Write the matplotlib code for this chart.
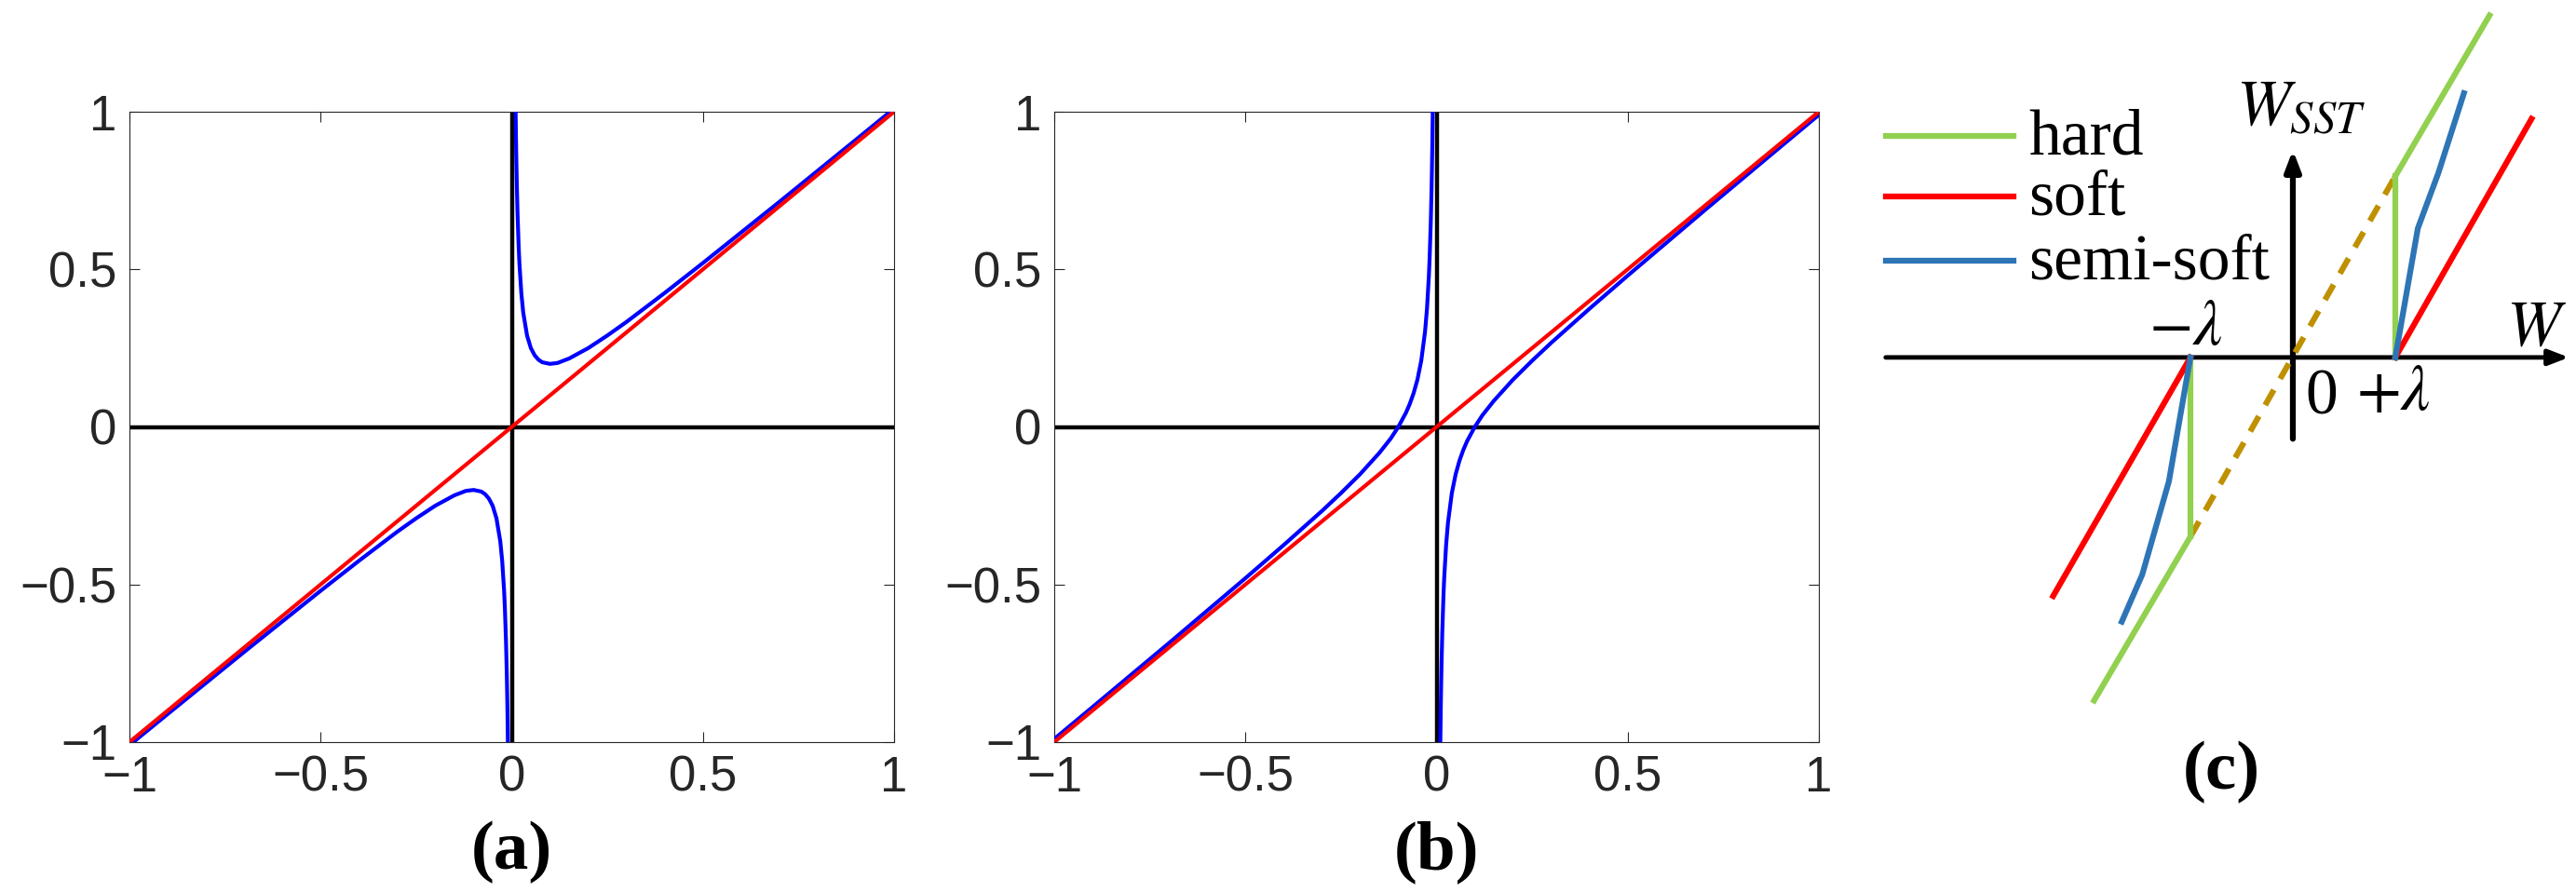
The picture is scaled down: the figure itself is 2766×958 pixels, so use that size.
import matplotlib
matplotlib.use("Agg")
import matplotlib.pyplot as plt

plt.rcParams['mathtext.fontset'] = 'stix'

# reference line y = x
diag_x = [-1.0, 1.0]
diag_y = [-1.0, 1.0]

# panel (a): blue curve, two branches
a_right_x = [0.0101, 0.011, 0.012, 0.013, 0.015, 0.018, 0.02, 0.025, 0.03, 0.04, 0.05, 0.06, 0.07, 0.08,
             0.1, 0.12, 0.15, 0.2, 0.25, 0.3, 0.4, 0.5, 0.6, 0.7, 0.8, 0.9, 1.0]
a_right_y = [1.0, 0.92, 0.845, 0.782, 0.682, 0.574, 0.52, 0.425, 0.363, 0.29, 0.25, 0.227, 0.213, 0.205,
             0.2, 0.203, 0.217, 0.25, 0.29, 0.333, 0.425, 0.52, 0.617, 0.714, 0.8125, 0.911, 1.01]
a_left_x = [-v for v in a_right_x]
a_left_y = [-v for v in a_right_y]

# panel (b): blue curve, two branches
b_right_x = [0.0099, 0.011, 0.012, 0.013, 0.015, 0.018, 0.02, 0.025, 0.03, 0.04, 0.05, 0.06, 0.07, 0.08,
             0.1, 0.12, 0.15, 0.2, 0.25, 0.3, 0.4, 0.5, 0.6, 0.7, 0.8, 0.9, 1.0]
b_right_y = [-1.0, -0.898, -0.821, -0.756, -0.652, -0.538, -0.48, -0.375, -0.303, -0.21, -0.15, -0.107, -0.073, -0.045,
             0.0, 0.037, 0.083, 0.15, 0.21, 0.267, 0.375, 0.48, 0.583, 0.686, 0.7875, 0.889, 0.99]
b_left_x = [-v for v in b_right_x]
b_left_y = [-v for v in b_right_y]

ticks = [-1, -0.5, 0, 0.5, 1]
tick_labels = ['\u22121', '\u22120.5', '0', '0.5', '1']

# panel (c): thresholding sketch, lambda = 1
hard_up_x, hard_up_y = [1.0, 1.92], [1.77, 3.34]
hard_lo_x, hard_lo_y = [-1.0, -1.94], [-1.75, -3.35]
hard_jump_x = [1.0, -1.0]
hard_jump_y = [1.77, -1.75]
dash_x, dash_y = [-1.0, 1.0], [-1.75, 1.77]
soft_up_x, soft_up_y = [1.0, 2.33], [0.0, 2.33]
soft_lo_x, soft_lo_y = [-1.0, -2.34], [0.0, -2.33]
semi_up_x, semi_up_y = [1.0, 1.22, 1.42, 1.67], [0.0, 1.26, 1.8, 2.58]
semi_lo_x, semi_lo_y = [-1.0, -1.21, -1.47, -1.67], [0.0, -1.21, -2.12, -2.58]
legend_labels = ['hard', 'soft', 'semi-soft']

GREEN, RED, SBLUE, GOLD = '#92D050', '#FF0000', '#2E75B6', '#BF9000'
W, H = 2766, 958

fig = plt.figure(figsize=(27.66, 9.58), dpi=100)


def panel(left_px, rx, ry, lx, ly, label):
    ax = fig.add_axes([left_px / W, 161 / H, 821 / W, 677 / H])
    ax.plot([-1, 1], [0, 0], color='black', lw=3.2, zorder=2)
    ax.plot([0, 0], [-1, 1], color='black', lw=3.2, zorder=2)
    ax.plot(rx, ry, color='#0000FF', lw=3.0, zorder=3)
    ax.plot(lx, ly, color='#0000FF', lw=3.0, zorder=3)
    ax.plot(diag_x, diag_y, color='#FF0000', lw=3.0, zorder=4)
    ax.set_xlim(-1, 1)
    ax.set_ylim(-1, 1)
    ax.set_xticks(ticks)
    ax.set_yticks(ticks)
    ax.set_xticklabels(tick_labels)
    ax.set_yticklabels(tick_labels)
    ax.tick_params(direction='in', top=True, right=True, length=8, width=0.8, color='#262626',
                   labelsize=38, labelcolor='#262626', pad=10)
    for lab in ax.get_xticklabels() + ax.get_yticklabels():
        lab.set_family('Liberation Sans')
    for s in ax.spines.values():
        s.set_color('#262626')
        s.set_linewidth(0.8)
    fig.text((left_px + 410) / W, 1 - 915 / H, label, ha='center', va='center',
             fontsize=54, family='Liberation Serif', fontweight='bold')


panel(139, a_right_x, a_right_y, a_left_x, a_left_y, '(a)')
panel(1132, b_right_x, b_right_y, b_left_x, b_left_y, '(b)')

# panel (c)
axc = fig.add_axes([2000 / W, 0, 766 / W, 1])
axc.set_xlim(-4.2, 2.764)
axc.set_ylim(-5.22, 3.49)
axc.axis('off')
axc.annotate('', xy=(2.72, 0), xytext=(-4.0, 0),
             arrowprops=dict(arrowstyle='-|>,head_length=1.3,head_width=0.5', color='black', lw=3.5))
axc.annotate('', xy=(0, 2.05), xytext=(0, -0.82),
             arrowprops=dict(arrowstyle='-|>,head_length=1.3,head_width=0.5', color='black', lw=4.5))
lw = 4.5
axc.plot(dash_x, dash_y, color=GOLD, lw=lw, ls=(0, (3, 2.2)), zorder=3)
axc.plot(hard_up_x, hard_up_y, color=GREEN, lw=lw, zorder=4)
axc.plot(hard_lo_x, hard_lo_y, color=GREEN, lw=lw, zorder=4)
for hx, hy in zip(hard_jump_x, hard_jump_y):
    axc.plot([hx, hx], [0, hy], color=GREEN, lw=lw, zorder=4)
axc.plot(soft_up_x, soft_up_y, color=RED, lw=lw, zorder=4)
axc.plot(soft_lo_x, soft_lo_y, color=RED, lw=lw, zorder=4)
axc.plot(semi_up_x, semi_up_y, color=SBLUE, lw=lw, zorder=5)
axc.plot(semi_lo_x, semi_lo_y, color=SBLUE, lw=lw, zorder=5)

leg_colors = [GREEN, RED, SBLUE]
leg_y = [2.16, 1.57, 0.94]
for c, yy, txt in zip(leg_colors, leg_y, legend_labels):
    axc.plot([-3.97, -2.73], [yy, yy], color=c, lw=lw)
    axc.text(-2.58, yy - 0.02, txt, ha='left', va='center', fontsize=50, family='Liberation Serif')

axc.text(-0.55, 2.45, r'$W_{SST}$', ha='left', va='center', fontsize=50)
axc.text(2.08, 0.3, r'$W$', ha='left', va='center', fontsize=50)
axc.text(-1.05, 0.3, r'$-\lambda$', ha='center', va='center', fontsize=50)
axc.text(0.12, -0.4, '0', ha='left', va='center', fontsize=50, family='Liberation Serif')
axc.text(0.62, -0.33, r'$+\lambda$', ha='left', va='center', fontsize=50)
axc.text(-0.7, -4.05, '(c)', ha='center', va='center', fontsize=54,
         family='Liberation Serif', fontweight='bold')

fig.savefig('out.png', dpi=100)
